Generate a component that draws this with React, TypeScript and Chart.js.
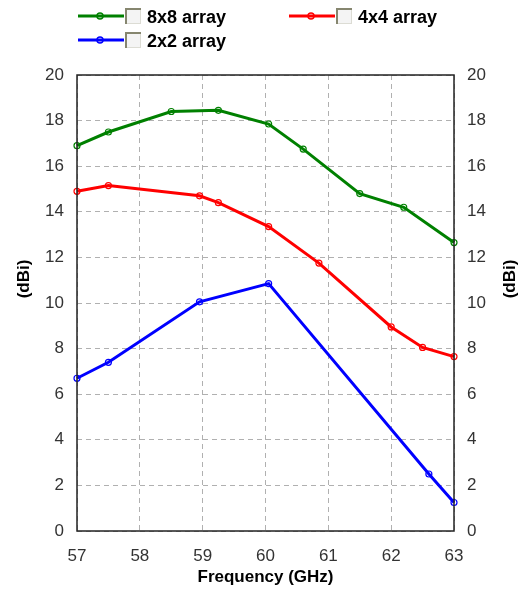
import React, { useEffect, useRef } from "react";
import { Chart, registerables } from "chart.js";

Chart.register(...registerables);

const seriesLabels = ["8x8 array", "4x4 array", "2x2 array"];
const seriesColors = ["#008000", "#ff0000", "#0000ff"];

const freq8 = [57, 57.5, 58.5, 59.25, 60.05, 60.6, 61.5, 62.2, 63];
const gain8 = [16.9, 17.5, 18.4, 18.45, 17.85, 16.75, 14.8, 14.2, 12.65];
const freq4 = [57, 57.5, 58.95, 59.25, 60.05, 60.85, 62, 62.5, 63];
const gain4 = [14.9, 15.15, 14.7, 14.4, 13.35, 11.75, 8.95, 8.05, 7.65];
const freq2 = [57, 57.5, 58.95, 60.05, 62.6, 63];
const gain2 = [6.7, 7.4, 10.05, 10.85, 2.5, 1.25];

const xMin = 57;
const xMax = 63;
const yMin = 0;
const yMax = 20;
const yStep = 2;

const xTitle = "Frequency (GHz)";
const yTitle = "(dBi)";

const FONT = "'Liberation Sans', Arial, sans-serif";

const toPoints = (xs: number[], ys: number[]) => xs.map((x, i) => ({ x, y: ys[i] }));

const legendSlots = [
  { x0: 78, y: 16 },
  { x0: 289, y: 16 },
  { x0: 78, y: 40 },
];

const extrasPlugin = {
  id: "extras",
  afterDraw(chart: any) {
    const ctx = chart.ctx;
    const a = chart.chartArea;
    ctx.save();
    // frame
    ctx.strokeStyle = "#222";
    ctx.lineWidth = 1.5;
    ctx.strokeRect(a.left, a.top, a.right - a.left, a.bottom - a.top);

    // y titles (both read bottom to top)
    ctx.fillStyle = "#000";
    ctx.font = `bold 17px ${FONT}`;
    ctx.textAlign = "center";
    ctx.textBaseline = "middle";
    [24.5, 510.5].forEach((cx) => {
      ctx.save();
      ctx.translate(cx, 279);
      ctx.rotate(-Math.PI / 2);
      ctx.fillText(yTitle, 0, 0);
      ctx.restore();
    });

    // legend
    chart.data.datasets.forEach((ds: any, i: number) => {
      const s = legendSlots[i];
      const x0 = s.x0;
      const x1 = x0 + 46;
      ctx.strokeStyle = ds.borderColor;
      ctx.lineWidth = 3;
      ctx.beginPath();
      ctx.moveTo(x0, s.y);
      ctx.lineTo(x1, s.y);
      ctx.stroke();
      ctx.lineWidth = 1.5;
      ctx.beginPath();
      ctx.arc(x0 + 22, s.y, 3, 0, Math.PI * 2);
      ctx.stroke();
      // checkbox
      const bx = x1 + 1;
      const by = s.y - 8;
      ctx.fillStyle = "#f4f4f4";
      ctx.fillRect(bx, by, 16, 16);
      ctx.strokeStyle = "#dcdcd4";
      ctx.lineWidth = 1;
      ctx.strokeRect(bx + 0.5, by + 0.5, 15, 15);
      ctx.strokeStyle = "#86866f";
      ctx.lineWidth = 2;
      ctx.beginPath();
      ctx.moveTo(bx + 1, by + 16);
      ctx.lineTo(bx + 1, by + 1);
      ctx.lineTo(bx + 16, by + 1);
      ctx.stroke();
      // label
      ctx.fillStyle = "#000";
      ctx.font = `bold 18px ${FONT}`;
      ctx.textAlign = "left";
      ctx.textBaseline = "middle";
      ctx.fillText(ds.label, bx + 22, s.y + 2);
    });
    ctx.restore();
  },
};

export default function App() {
  const ref = useRef<HTMLCanvasElement>(null);
  useEffect(() => {
    if (!ref.current) return;
    const mk = (i: number, xs: number[], ys: number[]) => ({
      label: seriesLabels[i],
      data: toPoints(xs, ys),
      borderColor: seriesColors[i],
      backgroundColor: "rgba(0,0,0,0)",
      borderWidth: 3,
      pointRadius: 3,
      pointBorderWidth: 1.2,
      pointBackgroundColor: "rgba(0,0,0,0)",
      pointBorderColor: seriesColors[i],
      tension: 0,
      clip: false as any,
      yAxisID: "y",
    });
    const tickFont = { family: FONT, size: 17 };
    const chart = new Chart(ref.current, {
      type: "line",
      data: {
        datasets: [mk(0, freq8, gain8), mk(1, freq4, gain4), mk(2, freq2, gain2)],
      },
      options: {
        animation: false,
        responsive: false,
        devicePixelRatio: 1,
        layout: { padding: { top: 75, left: 0, right: 0, bottom: 0 } },
        plugins: { legend: { display: false }, tooltip: { enabled: false }, title: { display: false } },
        scales: {
          x: {
            type: "linear",
            min: xMin,
            max: xMax,
            ticks: { stepSize: 1, padding: 15, color: "#333", font: tickFont },
            grid: { color: "#b0b0b0", lineWidth: 1, drawTicks: false },
            border: { display: false, dash: [5, 4] } as any,
            title: {
              display: true,
              text: xTitle,
              color: "#000",
              font: { family: FONT, size: 17, weight: "bold", lineHeight: 1 },
              padding: { top: 0, bottom: 4 },
            },
            afterFit: (s: any) => {
              s.height = 59;
            },
          },
          y: {
            type: "linear",
            position: "left",
            min: yMin,
            max: yMax,
            ticks: { stepSize: yStep, padding: 13, color: "#333", font: tickFont },
            grid: { color: "#b0b0b0", lineWidth: 1, drawTicks: false },
            border: { display: false, dash: [5, 4] } as any,
            afterFit: (s: any) => {
              s.width = 77;
            },
          },
          y2: {
            type: "linear",
            position: "right",
            min: yMin,
            max: yMax,
            ticks: { stepSize: yStep, padding: 13, color: "#333", font: tickFont },
            grid: { display: false, drawTicks: false },
            border: { display: false },
            afterFit: (s: any) => {
              s.width = 66;
            },
          },
        },
      },
      plugins: [extrasPlugin],
    });
    return () => chart.destroy();
  }, []);
  return (
    <div style={{ position: "absolute", left: 0, top: 0, width: 520, height: 590, background: "#fff" }}>
      <canvas ref={ref} width={520} height={590} style={{ display: "block", width: 520, height: 590 }} />
    </div>
  );
}
